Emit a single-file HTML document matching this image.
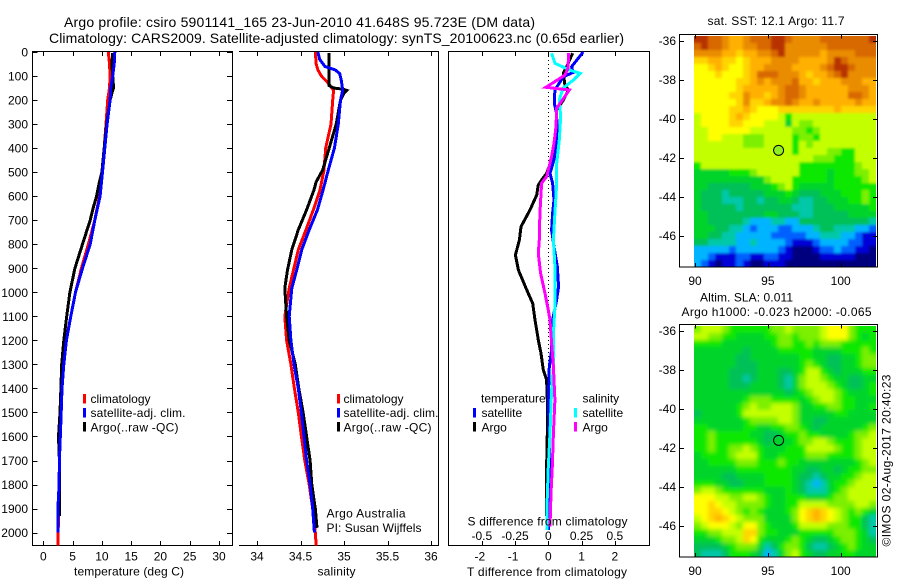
<!DOCTYPE html>
<html>
<head>
<meta charset="utf-8">
<title>Argo profile csiro 5901141_165</title>
<style>
html,body{margin:0;padding:0;background:#fff;}
svg{display:block;}
text{font-family:"Liberation Sans",sans-serif;font-size:12px;fill:#000;}
</style>
</head>
<body>
<svg id="chart" width="900" height="580" viewBox="0 0 900 580" xmlns="http://www.w3.org/2000/svg">
<defs>
<filter id="sstSmooth" filterUnits="userSpaceOnUse" x="660" y="0" width="240" height="290"><feGaussianBlur stdDeviation="1.3"/></filter>
<filter id="slaSmooth" filterUnits="userSpaceOnUse" x="660" y="290" width="240" height="290"><feGaussianBlur stdDeviation="2"/></filter>
<clipPath id="sstClip"><rect x="694" y="36" width="182" height="231"/></clipPath>
<clipPath id="slaClip"><rect x="694" y="326" width="182" height="231"/></clipPath>
</defs>
<rect x="0" y="0" width="900" height="580" fill="#fff"/>
<text x="64" y="27" style="font-size:14px" textLength="471" lengthAdjust="spacing">Argo profile: csiro 5901141_165 23-Jun-2010 41.648S 95.723E (DM data)</text>
<text x="49" y="43" style="font-size:14px" textLength="575" lengthAdjust="spacing">Climatology: CARS2009. Satellite-adjusted climatology: synTS_20100623.nc (0.65d earlier)</text>

<g id="plots"></g>

<text x="74" y="575.5" textLength="110" lengthAdjust="spacing">temperature (deg C)</text>
<text x="317.5" y="575.5" textLength="38" lengthAdjust="spacing">salinity</text>
<text x="467" y="576" textLength="160" lengthAdjust="spacing">T difference from climatology</text>
<text x="467.5" y="525.5" textLength="160" lengthAdjust="spacing">S difference from climatology</text>

<g>
<rect x="83" y="394" width="3" height="9.5" fill="#f00"/>
<text x="90.5" y="403">climatology</text>
<rect x="83" y="408" width="3" height="9.5" fill="#00f"/>
<text x="90.5" y="417" textLength="95" lengthAdjust="spacing">satellite-adj. clim.</text>
<rect x="83" y="422" width="3" height="9.5" fill="#000"/>
<text x="90.5" y="431.5" textLength="88" lengthAdjust="spacing">Argo(..raw -QC)</text>
</g>
<g>
<rect x="337" y="394" width="3" height="9.5" fill="#f00"/>
<text x="343.5" y="403">climatology</text>
<rect x="337" y="408" width="3" height="9.5" fill="#00f"/>
<text x="343.5" y="417" textLength="95" lengthAdjust="spacing">satellite-adj. clim.</text>
<rect x="337" y="422" width="3" height="9.5" fill="#000"/>
<text x="343.5" y="431.5" textLength="88" lengthAdjust="spacing">Argo(..raw -QC)</text>
</g>
<text x="326.5" y="517.5" textLength="79" lengthAdjust="spacing">Argo Australia</text>
<text x="326.5" y="532" textLength="95" lengthAdjust="spacing">PI: Susan Wijffels</text>

<g>
<text x="481" y="402.5">temperature</text>
<rect x="473" y="408" width="3" height="9.5" fill="#00f"/>
<text x="481.5" y="417">satellite</text>
<rect x="473" y="422" width="3" height="9.5" fill="#000"/>
<text x="481.5" y="431.5">Argo</text>
<text x="582.5" y="402.5">salinity</text>
<rect x="574" y="408" width="3" height="9.5" fill="#0ff"/>
<text x="582.5" y="417">satellite</text>
<rect x="574" y="422" width="3" height="9.5" fill="#f0f"/>
<text x="582.5" y="431.5">Argo</text>
</g>

<text x="707.5" y="25" textLength="137" lengthAdjust="spacing">sat. SST: 12.1 Argo: 11.7</text>
<text x="700" y="301.5" textLength="93" lengthAdjust="spacing">Altim. SLA: 0.011</text>
<text x="681.5" y="316" textLength="190" lengthAdjust="spacing">Argo h1000: -0.023 h2000: -0.065</text>
<text transform="translate(890.5,546.5) rotate(-90)" x="0" y="0" textLength="172" lengthAdjust="spacing">©IMOS 02-Aug-2017 20:40:23</text>
</svg>

<script>
// ---------- depth axis ----------
var depthTicks = [0,100,200,300,400,500,600,700,800,900,1000,1100,1200,1300,1400,1500,1600,1700,1800,1900,2000];

// ---------- temperature panel ----------
var tempTicks = [0,5,10,15,20,25,30];
var climTempDepth = [0,50,100,150,200,300,400,500,600,700,800,900,1000,1100,1200,1300,1400,1500,1600,1700,1800,1900,2000,2054];
var climTemp = [11.1,11.3,11.4,11.3,11.0,10.7,10.4,10.1,9.6,8.8,7.7,6.5,5.5,4.7,3.9,3.4,3.1,3.0,2.85,2.75,2.7,2.6,2.55,2.55];
var satTempDepth = [0,50,100,150,200,300,400,500,600,700,800,900,1000,1100,1200,1300,1400,1500,1600,1700,1800,1900,2000];
var satTemp = [12.2,12.1,11.85,11.5,11.4,10.9,10.5,10.1,9.7,8.8,8.0,6.7,5.5,4.7,3.95,3.5,3.2,3.05,2.9,2.75,2.7,2.5,2.5];
var argoTempDepth = [4,50,100,150,160,200,300,400,500,550,600,650,700,800,900,1000,1100,1200,1300,1400,1500,1600,1700,1800,1930];
var argoTemp = [11.85,11.7,11.85,12.0,11.85,11.4,10.8,10.4,10.0,9.5,9.1,8.5,8.0,6.7,5.4,4.55,4.0,3.5,3.15,3.0,2.85,2.6,2.75,2.75,2.75];

// ---------- salinity panel ----------
var salTicks = [34,34.5,35,35.5,36];
var climSalDepth = [0,50,75,100,130,160,200,300,400,491,574,657,740,823,907,983,1100,1200,1300,1400,1500,1600,1700,1800,1900,2000,2054];
var climSal = [34.67,34.68,34.70,34.74,34.82,34.88,34.87,34.85,34.79,34.77,34.724,34.647,34.563,34.475,34.42,34.37,34.32,34.34,34.39,34.43,34.475,34.51,34.55,34.60,34.64,34.67,34.68];
var satSalDepth = [0,30,60,75,90,120,160,200,300,400,491,574,657,740,823,907,983,1100,1200,1300,1400,1500,1600,1700,1800,1900,2000];
var satSal = [34.70,34.72,34.78,34.90,34.95,34.97,34.985,34.96,34.935,34.89,34.82,34.76,34.694,34.60,34.514,34.456,34.40,34.37,34.39,34.425,34.475,34.51,34.54,34.57,34.61,34.64,34.66];
var argoSalDepth = [4,140,150,155,160,170,200,300,400,491,540,574,657,740,823,907,983,1100,1200,1300,1400,1500,1600,1700,1800,1900,1980];
var argoSal = [34.83,34.83,34.88,34.99,35.03,35.0,34.96,34.91,34.83,34.755,34.68,34.655,34.57,34.475,34.40,34.35,34.32,34.34,34.37,34.44,34.48,34.53,34.57,34.61,34.63,34.67,34.69];

// ---------- difference panel ----------
var tDiffTicks = [-2,-1,0,1,2];
var sDiffTicks = [-0.5,-0.25,0,0.25,0.5];
var sDiffTickLabels = ['-0.5','-0.25','0','0.25','0.5'];
var dtSatDepth = [0,61,85,103,158,214,255,366,435,505,546,616,671,741,810,893,976,1032,1115,1240,1309,1448,1587,1726,1809,1989];
var dtSat = [1.05,0.70,0.75,0.45,0.20,0.18,0.25,0.27,0.20,0.05,0.13,0.17,0.13,0.10,0.17,0.27,0.31,0.25,0.13,0.10,0.03,0,0.03,0.03,0.05,0];
var dtArgoDepth = [5,61,89,137,158,200,241,311,394,449,505,533,553,595,657,727,782,845,907,983,1046,1115,1198,1254,1323,1365,1448,1587,1726,1930];
var dtArgo = [0.73,0.55,0.45,0.50,0.60,0.45,0.25,0.25,0.20,0.10,-0.05,-0.20,-0.30,-0.35,-0.55,-0.82,-0.87,-0.99,-0.90,-0.67,-0.47,-0.40,-0.30,-0.22,-0.15,-0.05,-0.03,-0.03,-0.05,-0.05];
var dsSatDepth = [5,47,75,89,116,151,200,269,366,463,546,671,782,893,1060,1171,1309,1406,1587,1726,1864,1989];
var dsSat = [0.025,0.05,0.16,0.24,0.19,0.11,0.083,0.093,0.083,0.063,0.063,0.05,0.038,0.05,0.05,0.038,0.038,0.025,0.013,0,-0.008,-0.008];
var dsArgoDepth = [5,68,96,123,147,158,234,311,380,435,519,546,671,782,838,921,1004,1074,1115,1212,1309,1448,1587,1726,1837,1975];
var dsArgo = [0.153,0.148,0.125,0.05,-0.018,0.158,0.063,0.058,0.043,0.025,-0.013,-0.05,-0.063,-0.068,-0.075,-0.058,-0.025,0,0.013,0.025,0.038,0.05,0.038,0.03,0.02,0.013];
var zeroLineDepths = [0,1290];

// ---------- maps ----------
var lonTicks = [90,95,100];
var latTicks = [-36,-38,-40,-42,-44,-46];
var argoLon = [95.723];
var argoLat = [-41.648];
var levelColors = ['#00007f','#0000d8','#0060ff','#00b4ff','#00c8a8','#00c058','#00d42a','#10e800','#7cf000','#c4ff00','#ffff00','#ffd400','#ffb000','#ea8c00','#d86800','#b83000'];
var sstGrid = [
[15,15,14,14,13,12,12,13,14,14,14,15,15,14,13,13,13,13,14,14,14,14,14,14,14,15],
[14,15,14,14,13,12,12,13,13,14,14,15,15,13,13,13,13,13,13,14,14,14,14,14,14,14],
[13,13,13,13,12,12,11,12,12,13,13,14,15,13,13,13,13,13,12,13,13,13,13,14,14,14],
[11,11,12,12,11,11,10,11,12,12,12,13,13,13,13,12,12,12,12,13,15,14,13,13,13,13],
[10,10,11,12,11,10,10,11,12,12,13,13,13,13,12,12,12,12,13,14,15,15,14,13,13,13],
[10,10,10,11,10,10,10,11,12,14,14,14,13,13,13,12,11,12,12,13,14,15,13,13,13,13],
[10,10,10,10,10,10,11,11,12,13,12,13,13,13,14,12,12,11,12,12,12,13,13,13,12,12],
[10,10,10,10,10,10,11,12,12,12,12,12,13,14,14,13,12,12,12,12,12,12,13,13,13,12],
[10,10,10,10,10,11,11,13,12,12,11,12,13,14,14,13,12,12,12,12,12,12,14,14,13,12],
[10,10,10,10,10,10,11,13,11,11,12,13,13,14,13,12,12,13,12,12,12,12,12,13,12,12],
[10,10,10,10,10,11,11,12,11,10,10,10,11,11,11,11,11,11,11,11,12,11,11,11,11,11],
[9,10,10,10,10,11,12,11,10,10,10,10,9,7,9,9,9,9,9,9,9,9,9,9,9,9],
[9,10,10,10,10,11,11,10,10,10,9,9,9,6,9,8,8,9,9,9,9,9,9,9,9,9],
[9,9,10,10,10,10,10,10,9,9,9,9,9,9,8,8,7,8,9,9,9,9,9,9,9,9],
[9,9,10,10,9,9,9,8,8,8,9,9,9,9,7,8,8,7,9,9,9,9,9,9,9,9],
[9,9,9,9,9,9,9,8,8,8,9,9,9,9,7,9,8,9,9,9,9,9,9,9,9,9],
[9,9,9,9,9,9,9,9,9,9,9,9,9,9,7,9,9,9,9,8,8,7,7,9,9,9],
[9,9,9,9,9,9,9,9,9,9,9,9,9,9,9,9,9,8,8,8,7,7,7,9,9,9],
[7,9,9,9,9,9,9,9,9,9,9,9,9,9,9,7,7,7,7,7,7,7,7,8,9,9],
[6,6,6,6,6,7,7,7,8,9,9,9,9,9,9,7,7,7,7,6,7,7,7,8,8,9],
[6,6,6,6,6,6,6,6,6,6,8,9,9,9,7,7,7,7,7,6,7,7,7,7,8,9],
[6,6,5,5,5,5,5,5,6,6,6,7,8,9,7,6,6,6,6,6,7,7,7,7,7,7],
[6,5,5,5,4,5,5,5,5,5,6,6,6,7,6,5,5,5,6,6,6,7,7,7,8,7],
[6,5,5,5,4,4,4,5,5,4,5,5,6,6,5,4,4,5,5,6,6,6,7,7,8,7],
[6,5,5,5,5,5,4,5,5,5,5,5,5,5,4,4,4,5,5,5,6,6,6,6,6,7],
[6,6,5,5,5,5,5,5,5,5,6,6,5,5,5,4,4,5,5,5,5,5,6,6,6,6],
[6,6,5,5,5,5,5,4,3,3,3,4,4,3,3,5,5,5,5,5,5,5,5,5,5,4],
[6,6,6,5,5,4,4,3,2,3,3,3,2,2,3,3,3,4,5,5,4,4,4,3,3,2],
[6,6,5,5,4,4,3,3,3,3,3,2,2,2,2,2,3,3,4,4,4,3,3,2,1,1],
[5,5,4,4,4,4,3,3,4,3,3,3,3,2,1,1,1,2,3,3,3,3,2,2,1,1],
[3,3,3,3,3,2,3,3,3,3,3,3,2,1,0,0,0,1,2,2,3,2,2,1,1,0],
[3,3,2,1,1,1,2,2,1,1,2,2,1,1,0,0,0,0,1,1,1,1,1,0,0,0],
[3,2,1,0,1,1,2,1,0,0,1,1,1,0,0,0,0,0,0,0,0,0,0,0,0,0]
];
var slaGrid = [
[8,9,9,9,8,7,7,7,7,7,7,8,8,9,8,8,8,8,9,10,10,10,8,7,7,7],
[9,9,8,8,7,7,6,6,6,6,7,7,8,8,7,8,8,8,9,10,10,10,8,7,6,7],
[7,7,7,7,6,6,6,6,6,6,6,7,8,8,7,7,8,7,8,8,8,7,7,7,7,7],
[6,6,6,6,6,6,6,5,6,6,6,6,7,7,7,7,7,6,6,6,6,7,7,7,8,7],
[6,6,6,6,6,6,5,5,6,6,6,6,6,6,6,7,7,6,6,5,5,6,6,7,8,8],
[6,6,6,6,6,6,5,5,5,6,6,6,6,6,6,7,8,7,6,5,5,6,6,7,8,8],
[6,6,6,6,6,5,5,5,5,6,6,6,5,5,6,7,9,9,7,6,5,6,6,6,7,7],
[6,6,6,6,6,5,5,4,5,6,6,6,5,4,6,8,9,9,8,7,6,6,5,5,6,6],
[6,6,6,6,6,5,5,5,6,6,6,6,5,4,6,8,9,9,9,8,7,6,5,5,6,7],
[6,6,6,6,6,6,6,6,6,6,6,6,6,5,6,7,8,9,9,9,8,7,6,6,6,7],
[6,6,6,6,6,6,6,7,8,8,8,7,7,7,7,6,7,8,9,9,8,7,7,6,6,6],
[6,6,6,6,6,6,7,8,9,8,8,9,9,9,8,6,6,7,7,8,8,7,7,6,6,7],
[5,6,6,6,6,6,7,9,9,9,9,9,9,9,8,6,6,6,6,6,7,7,6,6,6,6],
[6,6,6,6,6,6,6,7,8,8,8,8,9,9,8,6,6,5,5,6,6,6,6,6,6,6],
[7,7,6,6,6,6,6,7,7,6,6,7,7,8,8,7,6,5,6,6,6,6,6,6,7,8],
[7,7,8,7,7,7,7,7,6,6,5,5,6,7,7,8,7,7,6,6,6,6,7,8,8,9],
[7,7,8,7,7,7,7,7,7,6,5,6,6,6,7,8,8,9,9,8,7,7,7,8,9,9],
[7,7,8,7,7,8,8,9,8,7,6,6,6,7,7,7,9,9,9,9,8,7,7,8,9,9],
[6,7,7,7,7,8,9,9,9,7,6,6,7,7,7,7,8,8,8,7,7,7,7,8,9,9],
[6,6,7,7,7,7,8,8,8,7,7,7,8,7,7,6,6,6,6,6,6,6,6,7,8,9],
[6,6,6,6,6,6,7,7,7,7,7,7,7,7,6,6,5,5,6,6,5,6,7,7,8,8],
[6,6,6,6,5,5,6,6,6,6,7,7,7,7,6,5,5,4,5,6,6,7,7,8,9,9],
[7,7,7,6,6,5,5,6,6,6,7,7,7,7,6,5,4,3,4,6,7,7,8,9,9,9],
[8,9,9,8,7,7,7,7,7,7,6,6,6,7,6,5,4,4,4,6,7,8,9,9,9,9],
[10,10,10,9,9,8,8,9,9,8,7,6,6,7,7,7,6,6,6,7,8,8,9,9,9,9],
[10,10,11,10,9,9,8,8,8,8,7,6,6,7,7,9,9,9,9,8,8,8,8,9,9,8],
[10,10,11,11,10,9,8,7,8,7,6,6,6,7,8,10,11,12,11,10,9,8,7,8,7,6],
[9,10,11,12,11,10,9,8,8,8,6,6,6,6,8,10,11,12,11,10,9,8,7,7,5,4],
[8,9,10,10,10,9,8,10,10,8,7,6,6,6,7,9,9,9,9,8,8,8,7,7,5,4],
[7,7,8,8,9,9,9,11,11,8,7,7,6,6,6,7,7,7,7,7,8,8,8,7,6,4],
[6,6,6,7,8,8,9,11,10,7,6,6,6,7,8,7,6,5,5,6,7,8,8,7,6,5],
[5,5,5,5,6,7,8,8,8,6,4,5,7,8,8,7,5,4,4,5,6,7,8,7,6,6],
[5,4,4,4,5,7,7,7,6,5,3,4,6,8,9,7,6,5,5,6,6,7,7,6,6,6]
];

// ---------- axis functions ----------
function yDepth(d){ return 52 + d * 0.2403; }
function xTemp(t){ return 43.3 + t * 5.857; }
function xSal(s){ return 257 + (s - 34) * 87; }
function xTDiff(t){ return 548.3 + t * 33.25; }
function xSDiff(s){ return 548.3 + s * 133; }
function xLon(lon){ return 695 + (lon - 90) * 14.57; }
function yLat(lat, top){ return top + 6.2 + (-36 - lat) * 19.5; }

var svgNS = 'http://www.w3.org/2000/svg';
var plots = document.getElementById('plots');

function make(tag, attrs, parent){
  var el = document.createElementNS(svgNS, tag);
  for (var k in attrs) { el.setAttribute(k, attrs[k]); }
  (parent || plots).appendChild(el);
  return el;
}
function crispLine(x1, y1, x2, y2, parent){
  return make('line', {x1:x1, y1:y1, x2:x2, y2:y2, stroke:'#000', 'stroke-width':1, 'shape-rendering':'crispEdges'}, parent);
}
function label(str, x, y, anchor, parent){
  var t = make('text', {x:x, y:y, 'text-anchor':anchor}, parent);
  t.textContent = str;
  return t;
}
function profilePoints(xs, ds, xf){
  return xs.map(function(v, i){ return xf(v).toFixed(1) + ',' + yDepth(ds[i]).toFixed(1); }).join(' ');
}
function drawProfile(xs, ds, xf, color, parent){
  return make('polyline', {points:profilePoints(xs, ds, xf), fill:'none', stroke:color, 'stroke-width':3, 'stroke-linejoin':'miter', 'shape-rendering':'crispEdges'}, parent);
}

// ---------- panel 1: temperature ----------
var tempPanel = make('g', {});


var tempFrame = make('rect', {x:32.5, y:51.5, width:200, height:494, fill:'none', stroke:'#000', 'stroke-width':1, 'shape-rendering':'crispEdges'}, tempPanel);


depthTicks.forEach(function(d){
  var y = Math.round(yDepth(d)) + 0.5;
  var a = crispLine(32.5, y, 37.5, y, tempPanel);
  
  
  var b = crispLine(227, y, 232.5, y, tempPanel);
  
  
  var t = label(String(d), 28, yDepth(d) + 4.5, 'end', tempPanel);
  
  
});
tempTicks.forEach(function(v){
  var x = Math.round(xTemp(v)) + 0.5;
  var a = crispLine(x, 51.5, x, 56, tempPanel);
  
  
  var b = crispLine(x, 541, x, 545.5, tempPanel);
  
  
  var t = label(String(v), xTemp(v), 560.5, 'middle', tempPanel);
  
  
});
var s1 = drawProfile(climTemp, climTempDepth, xTemp, '#f00', tempPanel);


var s2 = drawProfile(argoTemp, argoTempDepth, xTemp, '#000', tempPanel);


var s3 = drawProfile(satTemp, satTempDepth, xTemp, '#00f', tempPanel);



// ---------- panel 2: salinity ----------
var salPanel = make('g', {});


var salFrame = make('path', {d:'M239 51.5H438.5V545.5H239', fill:'none', stroke:'#000', 'stroke-width':1, 'shape-rendering':'crispEdges'}, salPanel);


salTicks.forEach(function(v){
  var x = Math.round(xSal(v)) + 0.5;
  var a = crispLine(x, 51.5, x, 56, salPanel);
  
  
  var b = crispLine(x, 541, x, 545.5, salPanel);
  
  
  var t = label(String(v), xSal(v), 560.5, 'middle', salPanel);
  
  
});
var s4 = drawProfile(climSal, climSalDepth, xSal, '#f00', salPanel);


var s5 = drawProfile(argoSal, argoSalDepth, xSal, '#000', salPanel);


var s6 = drawProfile(satSal, satSalDepth, xSal, '#00f', salPanel);



// ---------- panel 3: differences ----------
var diffPanel = make('g', {});


var diffFrame = make('rect', {x:448.5, y:51.5, width:201, height:494, fill:'none', stroke:'#000', 'stroke-width':1, 'shape-rendering':'crispEdges'}, diffPanel);


var zeroLine = make('line', {x1:xTDiff(0), y1:yDepth(zeroLineDepths[0]), x2:xTDiff(0), y2:yDepth(zeroLineDepths[1]), stroke:'#000', 'stroke-width':1, 'stroke-dasharray':'1 3', 'shape-rendering':'crispEdges'}, diffPanel);


tDiffTicks.forEach(function(v){
  var x = Math.round(xTDiff(v)) + 0.5;
  var a = crispLine(x, 51.5, x, 56, diffPanel);
  
  
  var b = crispLine(x, 541, x, 545.5, diffPanel);
  
  
  var t = label(String(v), xTDiff(v) - (v < 0 ? 2 : 0), 560.5, 'middle', diffPanel);
  
  
});
sDiffTicks.forEach(function(v, i){
  var t = label(sDiffTickLabels[i], xSDiff(v), 540, 'middle', diffPanel);
  
  
});
var s7 = drawProfile(dtArgo, dtArgoDepth, xTDiff, '#000', diffPanel);


var s8 = drawProfile(dtSat, dtSatDepth, xTDiff, '#00f', diffPanel);


var s9 = drawProfile(dsSat, dsSatDepth, xSDiff, '#0ff', diffPanel);


var s10 = drawProfile(dsArgo, dsArgoDepth, xSDiff, '#f0f', diffPanel);



// ---------- maps ----------
var mapLeft = 694, cellW = 7, cellH = 7, edgePad = 14;
function drawMap(grid, top, mapName, cellName, markerFill, filterId, clipId){
  var g = make('g', {});
  
  
  var clip = make('g', {'clip-path':'url(#' + clipId + ')'}, g);
  
  
  var smooth = make('g', {filter:'url(#' + filterId + ')'}, clip);
  
  
  var y0 = top + 1.5;
  grid.forEach(function(row, r){
    row.forEach(function(level, c){
      var x = mapLeft + c * cellW, y = y0 + r * cellH, w = cellW, h = cellH;
      if (c === 0) { x -= edgePad; w += edgePad; }
      if (c === row.length - 1) { w += edgePad; }
      if (r === 0) { y -= edgePad; h += edgePad; }
      if (r === grid.length - 1) { h += edgePad; }
      var cell = make('rect', {x:x, y:y, width:w, height:h, fill:levelColors[level], 'shape-rendering':'crispEdges'}, smooth);
      
      
    });
  });
  var frame = make('rect', {x:679.5, y:top + 0.0, width:198, height:232.5, fill:'none', stroke:'#000', 'stroke-width':1, 'shape-rendering':'crispEdges'}, g);
  
  
  lonTicks.forEach(function(v){
    var x = Math.round(xLon(v)) + 0.5;
    var a = crispLine(x, top + 228.5, x, top + 232.5, g);
    
    
    var b = crispLine(x, top, x, top + 4, g);
    
    
    var t = label(String(v), xLon(v), top + 250.5, 'middle', g);
    
    
  });
  latTicks.forEach(function(v){
    var y = Math.round(yLat(v, top)) + 0.5;
    var a = crispLine(679.5, y, 684, y, g);
    
    
    var b = crispLine(873, y, 877.5, y, g);
    
    
    var t = label(String(v), 676, yLat(v, top) + 4.5, 'end', g);
    
    
  });
  argoLon.forEach(function(lon, i){
    var m = make('circle', {cx:xLon(lon) + 0.2, cy:yLat(argoLat[i], top) - 0.5, r:5, fill:markerFill, stroke:'#000', 'stroke-width':1}, g);
    
    
  });
}
drawMap(sstGrid, 34.5, 'sst-map', 'sst-cell', '#90f020', 'sstSmooth', 'sstClip');
drawMap(slaGrid, 324.5, 'sla-map', 'sla-cell', 'none', 'slaSmooth', 'slaClip');
</script>
</body>
</html>
